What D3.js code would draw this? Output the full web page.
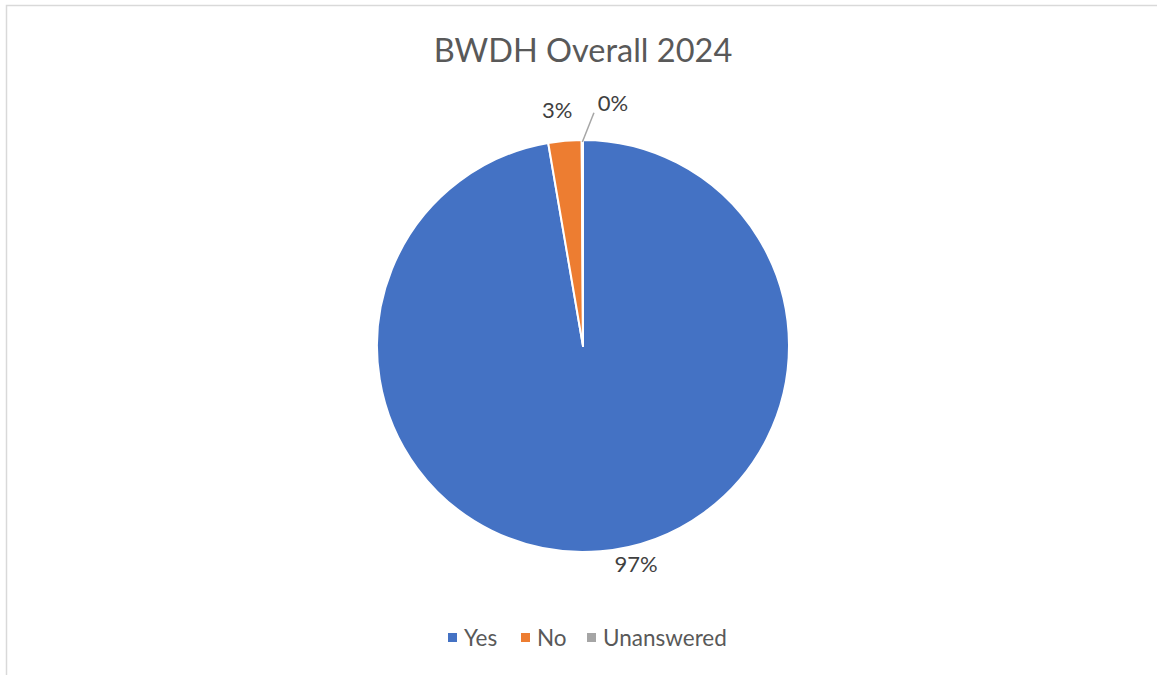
<!DOCTYPE html>
<html>
<head>
<meta charset="utf-8">
<script src="https://cdn.jsdelivr.net/npm/d3@7"></script>
<style>
  body { margin: 0; background: #fff; }
  text { font-family: Lato, "Liberation Sans", sans-serif; }
</style>
</head>
<body>
<svg id="chart" width="1157" height="675"></svg>
<script>
const title = "BWDH Overall 2024";
const categories = ["Yes", "No", "Unanswered"];
const values = [97.3, 2.6, 0.1];
const colors = ["#4472C4", "#ED7D31", "#A5A5A5"];

const W = 1157, H = 675;
const cx = 583, cy = 346, R = 206;

const svg = d3.select("#chart");

// chart frame
svg.append("rect")
  .attr("x", 6.5).attr("y", 5.5)
  .attr("width", W).attr("height", H)
  .attr("fill", "none").attr("stroke", "#d9d9d9").attr("stroke-width", 1.5);

svg.append("text")
  .attr("x", cx).attr("y", 62)
  .attr("text-anchor", "middle")
  .style("font-size", "32.5px").style("fill", "#595959")
  .text(title);

const data = categories.map((c, i) => ({ cat: c, value: values[i], color: colors[i] }));
const pie = d3.pie().value(d => d.value).sort(null);
const arcs = pie(data);
const arc = d3.arc().innerRadius(0).outerRadius(R);

const g = svg.append("g").attr("transform", `translate(${cx},${cy})`);

g.selectAll("path")
  .data(arcs)
  .join("path")
  .attr("d", arc)
  .attr("fill", d => d.data.color)
  .attr("stroke", "#fff")
  .attr("stroke-width", 2)
  .attr("stroke-linejoin", "round");

// label placement (best fit), offsets from each slice's mid angle
const labelShift = [[-8.8, 225], [-1.2, 237], [7.2, 245]];
const pct = d => Math.round(d.data.value) + "%";

arcs.forEach((a, i) => {
  const mid = (a.startAngle + a.endAngle) / 2 + labelShift[i][0] * Math.PI / 180;
  const r = labelShift[i][1];
  const x = r * Math.sin(mid), y = -r * Math.cos(mid);
  g.append("text")
    .attr("x", x).attr("y", y)
    .attr("dy", "0.35em")
    .attr("text-anchor", "middle")
    .style("font-size", "22px").style("fill", "#404040")
    .text(pct(a));
  if (i === 2) {
    // leader line from slice edge to label
    const ea = (a.startAngle + a.endAngle) / 2;
    g.append("line")
      .attr("x1", (R - 2) * Math.sin(ea)).attr("y1", -(R - 2) * Math.cos(ea))
      .attr("x2", x - 19).attr("y2", y + 10)
      .attr("stroke", "#a6a6a6").attr("stroke-width", 1.5);
  }
});

// legend
const legend = svg.append("g").attr("transform", "translate(0,638)");
const legX = [448, 521, 587];
const items = legend.selectAll("g")
  .data(data)
  .join("g")
  .attr("transform", (d, i) => `translate(${legX[i]},0)`);
items.append("rect")
  .attr("x", 0).attr("y", -5)
  .attr("width", 9).attr("height", 9)
  .attr("fill", d => d.color);
items.append("text")
  .attr("x", 16).attr("y", 0)
  .attr("dy", "0.35em")
  .style("font-size", "22.5px").style("fill", "#595959")
  .text(d => d.cat);
</script>
</body>
</html>
